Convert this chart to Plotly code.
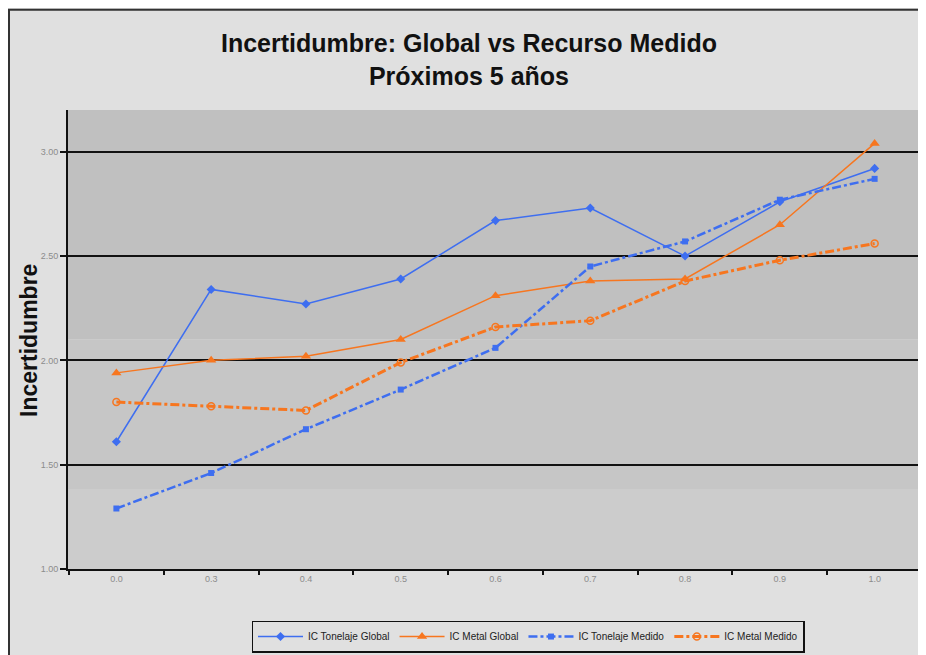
import plotly.graph_objects as go

# categories on the x axis (as printed on the chart)
x_labels = ["0.0", "0.3", "0.4", "0.5", "0.6", "0.7", "0.8", "0.9", "1.0"]

# series values
tonelaje_global = [1.61, 2.34, 2.27, 2.39, 2.67, 2.73, 2.50, 2.76, 2.92]
metal_global = [1.94, 2.00, 2.02, 2.10, 2.31, 2.38, 2.39, 2.65, 3.04]
tonelaje_medido = [1.29, 1.46, 1.67, 1.86, 2.06, 2.45, 2.57, 2.77, 2.87]
metal_medido = [1.80, 1.78, 1.76, 1.99, 2.16, 2.19, 2.38, 2.48, 2.56]

y_ticks = [1.0, 1.5, 2.0, 2.5, 3.0]

BLUE = "#3e6ef0"
ORANGE = "#f7761f"
PAPER = "#e0e0e0"

# page body adds an 8px margin, so positions below are shifted by it
OFF = 8
W, H = 926, 655
L, T = 68 - OFF, 110 - OFF
R = W - (923 - OFF)
B = H - (573 - OFF)
PW, PH = W - L - R, H - T - B


def px_x(p):
    return (p - OFF - L) / PW


def px_y(p):
    return (H - B - (p - OFF)) / PH


fig = go.Figure()

fig.add_trace(go.Scatter(
    x=x_labels, y=tonelaje_global, name="IC Tonelaje Global",
    mode="lines+markers",
    line={"color": BLUE, "width": 1.5},
    marker={"symbol": "diamond", "size": 7, "color": BLUE},
))
fig.add_trace(go.Scatter(
    x=x_labels, y=metal_global, name="IC Metal Global",
    mode="lines+markers",
    line={"color": ORANGE, "width": 1.5},
    marker={"symbol": "triangle-up", "size": 9, "color": ORANGE},
))
fig.add_trace(go.Scatter(
    x=x_labels, y=tonelaje_medido, name="IC Tonelaje Medido",
    mode="lines+markers",
    line={"color": BLUE, "width": 2.5, "dash": "dashdot"},
    marker={"symbol": "square", "size": 6, "color": BLUE},
))
fig.add_trace(go.Scatter(
    x=x_labels, y=metal_medido, name="IC Metal Medido",
    mode="lines+markers",
    line={"color": ORANGE, "width": 3, "dash": "dashdot"},
    marker={"symbol": "circle-open", "size": 7, "color": ORANGE,
            "line": {"width": 1.5}},
))

# chart frame and the shaded bands of the plot area
shapes = [
    dict(type="rect", xref="paper", yref="paper",
         x0=px_x(9), x1=px_x(W + 20), y0=px_y(H + 20), y1=px_y(9),
         fillcolor=PAPER, line={"color": "#333333", "width": 2}, layer="below"),
    dict(type="rect", xref="paper", yref="y", x0=0, x1=1, y0=2.1, y1=3.2,
         fillcolor="#c0c0c0", line={"width": 0}, layer="below"),
    dict(type="rect", xref="paper", yref="y", x0=0, x1=1, y0=1.38, y1=2.1,
         fillcolor="#c6c6c6", line={"width": 0}, layer="below"),
    dict(type="rect", xref="paper", yref="y", x0=0, x1=1, y0=1.0, y1=1.38,
         fillcolor="#cccccc", line={"width": 0}, layer="below"),
]

fig.update_layout(
    width=W, height=H,
    margin={"l": L, "r": R, "t": T, "b": B},
    paper_bgcolor=PAPER,
    plot_bgcolor="rgba(0,0,0,0)",
    font={"family": "Liberation Sans, Arial, sans-serif", "color": "#111111"},
    shapes=shapes,
    showlegend=True,
    legend={
        "orientation": "h",
        "x": px_x(528), "xanchor": "center",
        "y": px_y(625), "yanchor": "top",
        "bgcolor": PAPER, "bordercolor": "#111111", "borderwidth": 1.5,
        "font": {"size": 10, "color": "#222222"},
        "itemwidth": 45,
        "tracegroupgap": 0,
    },
    annotations=[
        dict(text="<b>Incertidumbre: Global vs Recurso Medido<br>Próximos 5 años</b>",
             xref="paper", yref="paper",
             x=px_x(469), y=px_y(59), xanchor="center", yanchor="middle",
             showarrow=False, font={"size": 25, "color": "#111111"}),
        dict(text="<b>Incertidumbre</b>", xref="paper", yref="paper",
             x=px_x(29), y=px_y(343), xanchor="center", yanchor="middle",
             textangle=-90, showarrow=False,
             font={"size": 23, "color": "#111111"}),
    ],
)

fig.update_xaxes(
    type="category",
    tickson="boundaries",
    ticks="outside", ticklen=4, tickcolor="#111111", tickwidth=1.5,
    showline=True, linecolor="#111111", linewidth=2,
    showgrid=False,
    tickfont={"size": 9, "color": "#8c8c8c"},
)
fig.update_yaxes(
    range=[1.0, 3.2],
    tickvals=y_ticks, tickformat=".2f",
    ticks="outside", ticklen=6, tickcolor="#111111", tickwidth=1.5,
    showline=True, linecolor="#111111", linewidth=2,
    showgrid=True, gridcolor="#111111", gridwidth=2,
    zeroline=False,
    tickfont={"size": 9, "color": "#8c8c8c"},
)

fig.write_html("out.html")
